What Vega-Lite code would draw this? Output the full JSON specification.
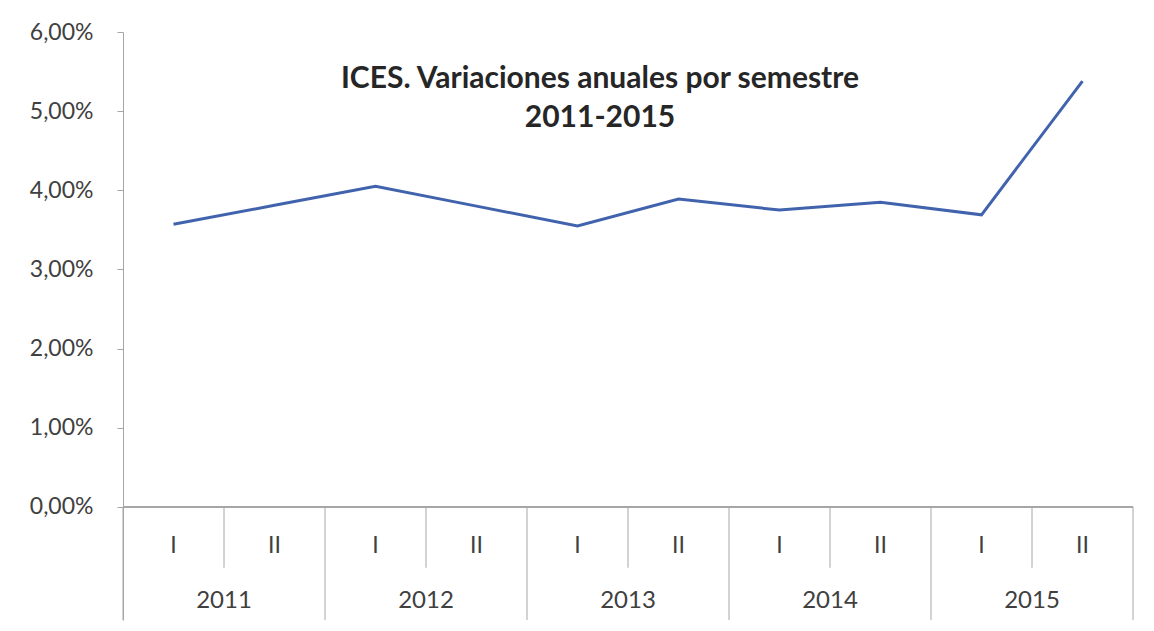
{
  "$schema": "https://vega.github.io/schema/vega-lite/v6.json",
  "width": 1010,
  "height": 588,
  "autosize": "none",
  "padding": {"left": 123, "top": 32, "right": 21, "bottom": 11},
  "background": "white",
  "config": {"view": {"stroke": null}, "font": "Lato"},
  "title": {
    "text": ["ICES. Variaciones anuales  por semestre", "2011-2015"],
    "anchor": "middle",
    "frame": "group",
    "baseline": "top",
    "offset": 0,
    "dy": 112,
    "dx": -28,
    "fontSize": 30,
    "fontWeight": "bold",
    "lineHeight": 39,
    "color": "#262626",
    "font": "Lato"
  },
  "data": {
    "values": [
      {"k": "2011-I", "year": "2011", "sem": "I", "v": 3.57},
      {"k": "2011-II", "year": "2011", "sem": "II", "v": 3.81},
      {"k": "2012-I", "year": "2012", "sem": "I", "v": 4.05},
      {"k": "2012-II", "year": "2012", "sem": "II", "v": 3.80},
      {"k": "2013-I", "year": "2013", "sem": "I", "v": 3.55},
      {"k": "2013-II", "year": "2013", "sem": "II", "v": 3.89},
      {"k": "2014-I", "year": "2014", "sem": "I", "v": 3.75},
      {"k": "2014-II", "year": "2014", "sem": "II", "v": 3.85},
      {"k": "2015-I", "year": "2015", "sem": "I", "v": 3.69},
      {"k": "2015-II", "year": "2015", "sem": "II", "v": 5.38}
    ]
  },
  "encoding": {
    "x": {
      "field": "k",
      "type": "ordinal",
      "scale": {
        "type": "band",
        "domain": ["2011-I", "2011-II", "2012-I", "2012-II", "2013-I", "2013-II", "2014-I", "2014-II", "2015-I", "2015-II"],
        "paddingInner": 0,
        "paddingOuter": 0
      },
      "axis": null
    }
  },
  "layer": [
    {
      "mark": {"type": "rule", "color": "#a6a6a6", "strokeWidth": 1},
      "encoding": {"x": null, "y": {"datum": 0, "type": "quantitative"}}
    },
    {
      "transform": [{"filter": "datum.sem == 'II'"}],
      "mark": {"type": "rule", "color": "#a6a6a6", "strokeWidth": 1},
      "encoding": {
        "x": {"field": "k", "type": "ordinal", "bandPosition": 0},
        "y": {"datum": 0, "type": "quantitative"},
        "y2": {"datum": -0.77}
      }
    },
    {
      "transform": [{"filter": "datum.sem == 'I'"}],
      "mark": {"type": "rule", "color": "#a6a6a6", "strokeWidth": 1},
      "encoding": {
        "x": {"field": "k", "type": "ordinal", "bandPosition": 0},
        "y": {"datum": 0, "type": "quantitative"},
        "y2": {"datum": -1.43}
      }
    },
    {
      "transform": [{"filter": "datum.k == '2015-II'"}],
      "mark": {"type": "rule", "color": "#a6a6a6", "strokeWidth": 1},
      "encoding": {
        "x": {"field": "k", "type": "ordinal", "bandPosition": 1},
        "y": {"datum": 0, "type": "quantitative"},
        "y2": {"datum": -1.43}
      }
    },
    {
      "mark": {"type": "text", "fontSize": 23, "color": "#404040", "baseline": "middle", "font": "Lato"},
      "encoding": {
        "x": {"field": "k", "type": "ordinal", "bandPosition": 0.5},
        "y": {"datum": -0.5, "type": "quantitative"},
        "text": {"field": "sem"}
      }
    },
    {
      "transform": [{"filter": "datum.sem == 'II'"}],
      "mark": {"type": "text", "fontSize": 24, "color": "#404040", "baseline": "middle", "font": "Lato"},
      "encoding": {
        "x": {"field": "k", "type": "ordinal", "bandPosition": 0},
        "y": {"datum": -1.19, "type": "quantitative"},
        "text": {"field": "year"}
      }
    },
    {
      "mark": {"type": "line", "color": "#4163ad", "strokeWidth": 3},
      "encoding": {
        "x": {"field": "k", "type": "ordinal", "bandPosition": 0.5},
        "y": {
          "field": "v",
          "type": "quantitative",
          "scale": {"domain": [-1.43, 6], "nice": false, "zero": false},
          "axis": {
            "values": [0, 1, 2, 3, 4, 5, 6],
            "labelExpr": "replace(format(datum.value, '.2f'), '.', ',') + '%'",
            "grid": false,
            "title": null,
            "domainColor": "#a6a6a6",
            "tickColor": "#a6a6a6",
            "tickSize": 6,
            "labelPadding": 24,
            "labelFontSize": 23,
            "labelColor": "#404040",
            "labelFont": "Lato"
          }
        }
      }
    }
  ]
}
